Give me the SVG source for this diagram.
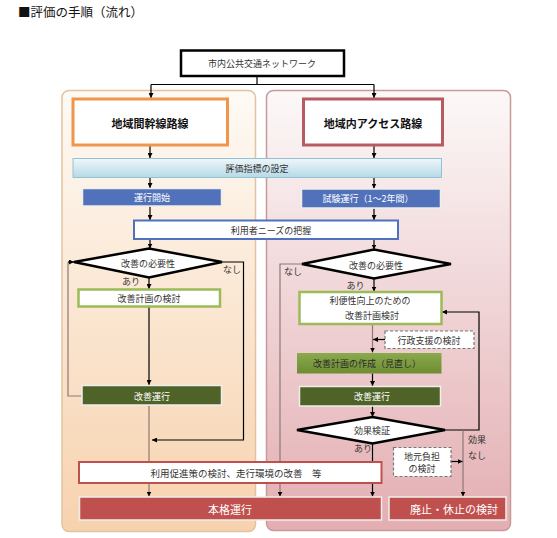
<svg xmlns="http://www.w3.org/2000/svg" width="557" height="538" viewBox="0 0 557 538">
<defs>
<linearGradient id="gL" x1="0" y1="0" x2="0" y2="1"><stop offset="0" stop-color="#fefaf5"/><stop offset="1" stop-color="#f7d2ae"/></linearGradient>
<linearGradient id="gR" x1="0" y1="0" x2="0" y2="1"><stop offset="0" stop-color="#fcf8f8"/><stop offset="1" stop-color="#e3aeb2"/></linearGradient>
<linearGradient id="gB" x1="0" y1="0" x2="0" y2="1"><stop offset="0" stop-color="#eef7fa"/><stop offset="1" stop-color="#b5dae6"/></linearGradient>
<linearGradient id="gG" x1="0" y1="0" x2="0" y2="1"><stop offset="0" stop-color="#8aaa4c"/><stop offset="1" stop-color="#6d8c33"/></linearGradient>
<marker id="ar" viewBox="0 0 10 10" refX="10" refY="5" markerWidth="5" markerHeight="5" orient="auto" markerUnits="userSpaceOnUse"><path d="M0,0 L10,5 L0,10 z" fill="#000"/></marker>
</defs>
<style>
text{font-family:"Noto Sans CJK JP","Noto Sans",sans-serif;text-anchor:middle;dominant-baseline:central;fill:#333;font-size:9px}
.w{fill:#fff}
.b{font-weight:bold;fill:#111;font-size:11px}
.c{fill:none;stroke:#000;stroke-width:1.2}
.g{fill:none;stroke:#8c7a72;stroke-width:1.2}
.dk{stroke:#000;stroke-width:2.5;fill:#fff}
.fill{stroke:#eeeeea;stroke-width:1.5}
</style>
<text x="18" y="11" style="text-anchor:start;font-size:12.5px;fill:#111">■評価の手順（流れ）</text>
<g id="panelL"><rect x="62" y="90.5" width="193.5" height="441" rx="7" fill="url(#gL)" stroke="#e2c3a0" stroke-width="1.5"/></g>
<g id="panelR"><rect x="266.5" y="90.5" width="244" height="440" rx="7" fill="url(#gR)" stroke="#c79a9a" stroke-width="1.5"/></g>
<g id="connectors">
<path class="c" d="M257,76 V84.5 M151,84.5 H374 M151,84.5 V98" marker-end="url(#ar)"/>
<path class="c" d="M374,84.5 V98" marker-end="url(#ar)"/>
<path class="c" d="M150,145 V158" marker-end="url(#ar)"/>
<path class="c" d="M374,145 V158" marker-end="url(#ar)"/>
<path class="c" d="M150,177.5 V188" marker-end="url(#ar)"/>
<path class="c" d="M374,177.5 V188.5" marker-end="url(#ar)"/>
<path class="c" d="M150,206.5 V220" marker-end="url(#ar)"/>
<path class="c" d="M374,208.5 V220" marker-end="url(#ar)"/>
<path class="c" d="M150,239.5 V248.5" marker-end="url(#ar)"/>
<path class="c" d="M374,239.5 V249.5" marker-end="url(#ar)"/>
<path class="c" d="M149,277.5 V289" marker-end="url(#ar)"/>
<path class="c" d="M374,278.5 V291.5" marker-end="url(#ar)"/>
<path class="c" d="M149,307 V385" marker-end="url(#ar)"/>
<path class="g" d="M82,396 H68 V262" />
<path class="c" d="M68,262 H74" marker-end="url(#ar)"/>
<path class="c" d="M222,262 H243.5 V440 H152" marker-end="url(#ar)"/>
<path class="g" d="M149,405.5 V496.5" marker-end="url(#ar)"/>
<path class="g" d="M302,264 H280 V496.5" marker-end="url(#ar)"/>
<path class="g" d="M372.5,324 V352.5" marker-end="url(#ar)"/>
<path class="c" d="M385,339.5 H373" marker-end="url(#ar)"/>
<path class="c" d="M372.5,373.5 V386" marker-end="url(#ar)"/>
<path class="c" d="M372.5,406 V417" marker-end="url(#ar)"/>
<path class="c" d="M445,430 H479 V312 H442" marker-end="url(#ar)"/>
<path class="c" d="M372.5,443.5 V496.5" marker-end="url(#ar)"/>
<path class="g" d="M463,430 V496.5" marker-end="url(#ar)"/>
<path class="c" d="M451,461.5 H462.5" marker-end="url(#ar)"/>
</g>
<g id="n-top"><rect x="181" y="50.5" width="163" height="25.5" fill="#fff" stroke="#000" stroke-width="2.5"/><text x="262" y="63.5">市内公共交通ネットワーク</text></g>
<g id="n-kansen"><rect x="73" y="99" width="154.5" height="46" fill="#fff" stroke="#f0954c" stroke-width="3"/><text class="b" x="150" y="123">地域間幹線路線</text></g>
<g id="n-access"><rect x="303.5" y="99" width="139" height="46" fill="#fff" stroke="#b85a62" stroke-width="3"/><text class="b" x="373" y="123">地域内アクセス路線</text></g>
<g id="n-shihyo"><rect x="73" y="158.5" width="368.5" height="19" fill="url(#gB)" stroke="#93c3d3" stroke-width="1"/><text x="257" y="168">評価指標の設定</text></g>
<g id="n-kaishi"><rect x="82.5" y="188.5" width="139" height="17.5" fill="#5172ba" class="fill"/><text class="w" x="152" y="197.5">運行開始</text></g>
<g id="n-shiken"><rect x="301.5" y="189" width="139" height="19" fill="#5172ba" class="fill"/><text class="w" x="368" y="198.5">試験運行（1～2年間）</text></g>
<g id="n-needs"><rect x="134" y="220.5" width="264" height="18.5" fill="#fff" stroke="#4f71be" stroke-width="2"/><text x="271" y="230">利用者ニーズの把握</text></g>
<g id="n-hitsuyoL"><polygon class="dk" points="74,262 149,248.5 222,262 149,277.5"/><text x="148" y="263">改善の必要性</text></g>
<g id="n-hitsuyoR"><polygon class="dk" points="302,264 374,249.5 451,264 374,278.5"/><text x="376" y="265">改善の必要性</text></g>
<g id="n-kentoL"><rect x="78.5" y="289.5" width="141.5" height="17" fill="#fff" stroke="#9bbb59" stroke-width="2.5"/><text x="149" y="298">改善計画の検討</text></g>
<g id="n-kentoR"><rect x="299.5" y="292" width="142" height="32" fill="#fff" stroke="#9bbb59" stroke-width="2.5"/><text x="370" y="300.5">利便性向上のための</text><text x="372" y="315.5">改善計画検討</text></g>
<g id="n-gyosei"><rect x="385" y="331" width="89" height="17.5" fill="#fff" stroke="#777" stroke-width="1.2" stroke-dasharray="3,2"/><text x="429" y="340">行政支援の検討</text></g>
<g id="n-sakusei"><rect x="297" y="353" width="144.5" height="20.5" fill="url(#gG)"/><text x="367" y="363" style="fill:#2b2b2b">改善計画の作成（見直し）</text></g>
<g id="n-unkoL"><rect x="82" y="385.5" width="139.5" height="19.5" fill="#4f6228" class="fill"/><text class="w" x="152" y="396">改善運行</text></g>
<g id="n-unkoR"><rect x="299.5" y="386.5" width="141" height="19.5" fill="#4f6228" class="fill"/><text class="w" x="372" y="396.5">改善運行</text></g>
<g id="n-kensho"><polygon class="dk" points="297,430 372.5,417 445,430 372.5,443.5"/><text x="372" y="430.5">効果検証</text></g>
<g id="n-jimoto"><rect x="393.5" y="447.5" width="57.5" height="29" fill="#fff" stroke="#777" stroke-width="1.2" stroke-dasharray="3,2"/><text x="422" y="456.5">地元負担</text><text x="422" y="468.5">の検討</text></g>
<g id="n-sokushin"><rect x="79" y="462" width="302.5" height="21" fill="#fff" stroke="#c0504d" stroke-width="2"/><text x="236" y="472.5" style="font-size:9.5px">利用促進策の検討、走行環境の改善　等</text></g>
<g id="n-honkaku"><rect x="79.5" y="497" width="302" height="23" fill="#c0504d" class="fill"/><text class="w" x="230" y="509" style="font-size:11px">本格運行</text></g>
<g id="n-haishi"><rect x="389" y="497" width="117" height="23" fill="#c0504d" class="fill"/><text class="w" x="454" y="509" style="font-size:11px">廃止・休止の検討</text></g>
<g id="labels" style="font-size:8.5px">
<text x="232" y="269">なし</text>
<text x="131" y="281">あり</text>
<text x="293" y="271">なし</text>
<text x="355.5" y="285">あり</text>
<text x="363" y="448">あり</text>
<text x="477" y="439">効果</text>
<text x="477" y="455">なし</text>
</g>
</svg>
